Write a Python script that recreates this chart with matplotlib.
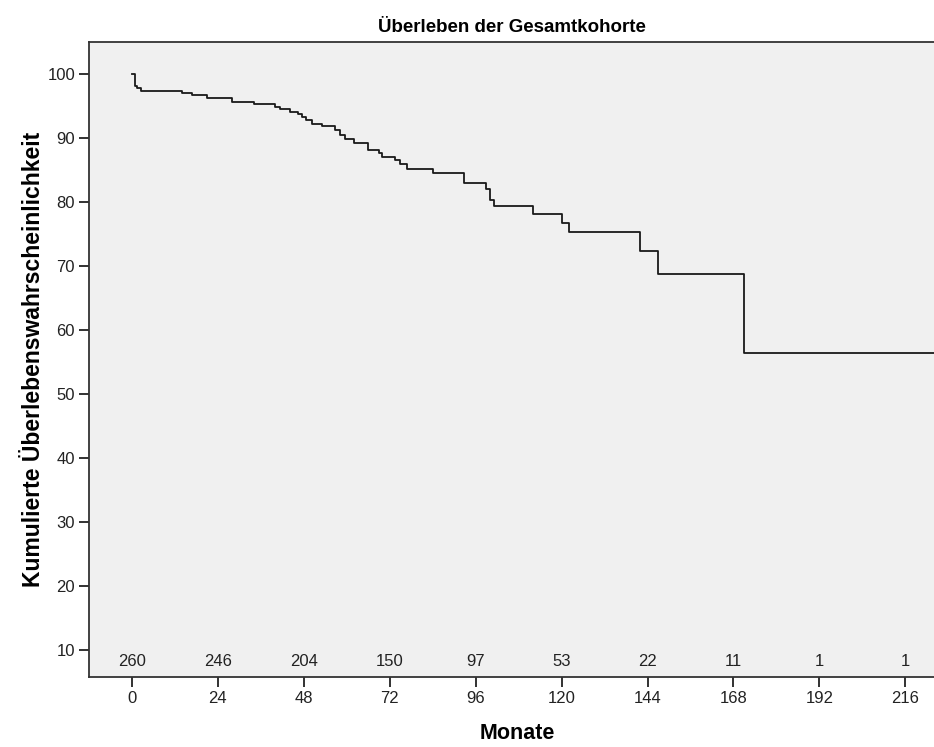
import matplotlib
matplotlib.use("Agg")
import matplotlib.pyplot as plt
import matplotlib.transforms as mtransforms

plt.rcParams['font.family'] = ['Liberation Sans', 'DejaVu Sans']

# Kaplan-Meier Stufen (Monate, kumulierte Überlebenswahrscheinlichkeit in %)
monate = [0, 0.9, 1.5, 2.5, 14, 16.8, 21, 28, 34, 40, 41.4, 44, 46.5, 47.5,
          48.5, 50.3, 53, 56.8, 58.2, 59.6, 61.9, 65.8, 68.9, 69.8, 73.5, 74.9,
          76.8, 84, 92.8, 99, 100.1, 101, 112, 120.1, 122, 142, 146.9, 171, 224]
ueberleben = [100, 98.1, 97.8, 97.3, 97.0, 96.7, 96.2, 95.7, 95.4, 94.9, 94.5,
              94.1, 93.75, 93.3, 92.8, 92.2, 91.9, 91.2, 90.5, 89.8, 89.3, 88.2,
              87.7, 87.1, 86.6, 86.0, 85.2, 84.6, 83.0, 82.1, 80.3, 79.4, 78.2,
              76.8, 75.3, 72.3, 68.7, 56.4, 56.4]

# Patienten unter Risiko
risiko_zeit = [0, 24, 48, 72, 96, 120, 144, 168, 192, 216]
risiko_n = [260, 246, 204, 150, 97, 53, 22, 11, 1, 1]

yticks = [10, 20, 30, 40, 50, 60, 70, 80, 90, 100]

fig = plt.figure(figsize=(9.34, 7.47), dpi=100)
ax = fig.add_axes([0.0953, 0.0937, 0.9047, 0.85])
ax.set_facecolor('#f0f0f0')

ax.step(monate, ueberleben, where='post', color='#1a1a1a', linewidth=1.3)

ax.set_xlim(-12, 224)
ax.set_ylim(5.8, 105)
ax.set_xticks(risiko_zeit)
ax.set_yticks(yticks)
ax.tick_params(direction='out', length=7, width=1.3, labelsize=12, colors='#222222', pad=3)

for s in ['top', 'left', 'bottom']:
    ax.spines[s].set_linewidth(1.3)
    ax.spines[s].set_color('#333333')
ax.spines['right'].set_visible(False)

trans = mtransforms.blended_transform_factory(ax.transData, ax.transAxes)
for t, n in zip(risiko_zeit, risiko_n):
    ax.text(t, 0.025, str(n), transform=trans, ha='center', va='center',
            fontsize=12, color='#222222')

ax.set_title('Überleben der Gesamtkohorte', fontsize=13.5, fontweight='bold', pad=7)
ax.set_xlabel('Monate', fontsize=15.5, fontweight='bold')
ax.set_ylabel('Kumulierte Überlebenswahrscheinlichkeit', fontsize=16.5,
              fontweight='bold')
ax.xaxis.set_label_coords(0.507, -0.0725)
ax.yaxis.set_label_coords(-0.052, 0.5)

fig.savefig('out.png', dpi=100)
